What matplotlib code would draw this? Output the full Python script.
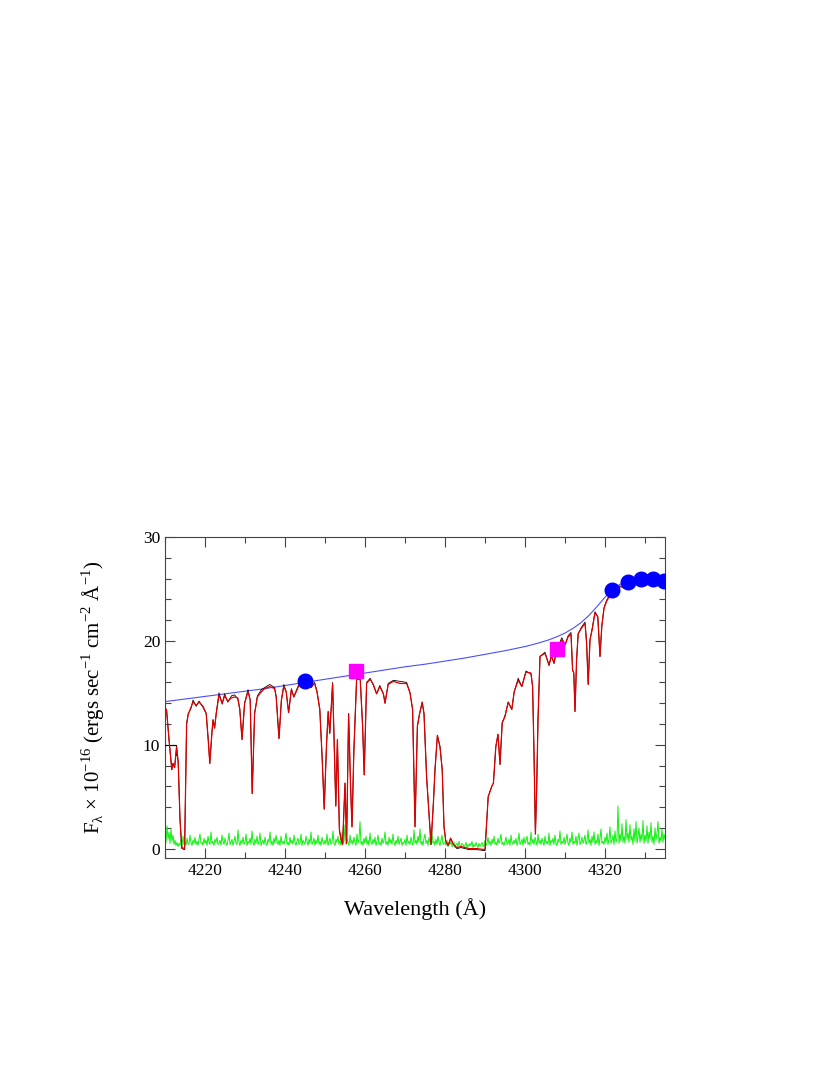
import numpy as np
import matplotlib
matplotlib.use("Agg")
import matplotlib.pyplot as plt

plt.rcParams['font.family'] = 'serif'
plt.rcParams['font.serif'] = ['Liberation Serif', 'DejaVu Serif']
plt.rcParams['mathtext.fontset'] = 'custom'
plt.rcParams['mathtext.rm'] = 'Liberation Serif'

# model fit (red)
model_wave = [4210.0, 4210.4, 4211.0, 4211.7, 4212.0, 4212.4, 4212.9, 4213.3, 4213.75, 4214.2,
              4214.9, 4215.4, 4215.8, 4216.5, 4217.0, 4217.8, 4218.5, 4219.5, 4220.3, 4220.8,
              4221.2, 4221.7, 4222.0, 4222.4, 4222.8, 4223.5, 4224.3, 4224.9, 4225.7, 4226.6,
              4227.4, 4228.2, 4228.7, 4229.25, 4229.9, 4230.75, 4231.3, 4231.8, 4232.4, 4233.1,
              4234.1, 4234.9, 4236.2, 4237.4, 4237.8, 4238.5, 4239.1, 4239.7, 4240.3, 4240.9,
              4241.6, 4242.2, 4242.8, 4243.7, 4245.3, 4246.6, 4247.4, 4248.0, 4248.7, 4249.3,
              4249.8, 4250.4, 4250.8, 4251.2, 4251.9, 4252.7, 4253.1, 4253.6, 4254.0, 4254.4,
              4255.0, 4255.4, 4255.9, 4256.4, 4256.75, 4257.2, 4257.9, 4258.8, 4259.4, 4259.8,
              4260.4, 4261.3, 4262.1, 4262.9, 4263.7, 4264.6, 4265.0, 4265.8, 4267.1, 4268.75,
              4270.4, 4271.25, 4271.9, 4272.5, 4273.1, 4273.6, 4274.3, 4274.75, 4275.4, 4276.1,
              4276.5, 4277.1, 4277.5, 4278.1, 4278.75, 4279.3, 4279.75, 4280.2, 4280.8, 4281.4,
              4282.1, 4283.0, 4284.0, 4286.0, 4288.0, 4290.0, 4290.8, 4291.7, 4292.1, 4292.7,
              4293.25, 4293.75, 4294.3, 4295.0, 4295.8, 4296.7, 4297.3, 4298.3, 4299.2, 4300.25,
              4301.5, 4301.9, 4302.25, 4302.6, 4302.9, 4303.25, 4303.75, 4305.0, 4306.0, 4306.6,
              4307.25, 4307.9, 4309.2, 4310.0, 4310.8, 4311.5, 4311.9, 4312.2, 4312.5, 4312.9,
              4313.3, 4314.1, 4315.0, 4315.4, 4315.8, 4316.25, 4316.8, 4317.5, 4318.2, 4318.75,
              4319.2, 4319.75, 4320.4, 4321.25, 4322.1, 4322.9, 4323.75, 4324.6, 4325.4, 4326.7,
              4327.5, 4328.75, 4330.0, 4332.0, 4335.0]
model_flux = [13.6, 13.3, 10.5, 7.6, 8.2, 7.8, 9.8, 8.3, 2.8, 0.1,
              0.0, 12.0, 12.9, 13.6, 14.1, 13.8, 14.1, 13.7, 13.0, 10.5,
              8.2, 11.0, 12.4, 11.6, 13.0, 14.8, 14.0, 14.7, 14.2, 14.5,
              14.6, 14.5, 13.4, 10.5, 14.0, 15.1, 14.3, 5.3, 13.0, 14.6,
              15.1, 15.4, 15.6, 15.4, 14.6, 10.6, 14.3, 15.6, 15.1, 13.1,
              15.3, 14.6, 15.1, 15.9, 16.2, 15.6, 15.9, 15.1, 13.4, 8.6,
              3.8, 10.2, 13.2, 11.1, 15.9, 4.1, 10.5, 1.8, 0.9, 0.4,
              6.3, 0.5, 13.0, 5.9, 2.1, 9.2, 16.3, 16.3, 11.8, 7.1,
              15.9, 16.3, 15.8, 14.9, 15.6, 14.9, 14.0, 15.8, 16.1, 15.9,
              15.9, 15.0, 13.4, 2.1, 11.8, 12.9, 14.1, 13.0, 6.9, 2.8,
              0.4, 4.4, 7.6, 10.9, 9.8, 7.6, 2.1, 0.7, 0.3, 1.0,
              0.4, 0.1, 0.2, 0.0, 0.0, -0.1, 5.0, 6.0, 6.3, 9.8,
              11.0, 8.1, 12.1, 12.7, 14.1, 13.4, 15.1, 16.2, 15.6, 17.0,
              16.9, 15.6, 9.2, 1.4, 5.4, 12.4, 18.5, 18.8, 17.7, 18.5,
              17.9, 19.0, 20.1, 19.6, 20.4, 20.6, 17.2, 16.9, 13.2, 18.2,
              20.7, 21.2, 21.7, 19.8, 15.8, 20.1, 21.1, 22.7, 22.3, 18.5,
              21.4, 23.1, 23.8, 24.4, 24.7, 24.9, 25.2, 25.2, 25.5, 25.7,
              25.5, 25.5, 25.4, 25.5, 25.5]

# observed spectrum (black), on the same wavelengths, mostly hidden under the model
obs_flux = [13.6, 13.3, 10.5, 7.6, 8.2, 7.8, 9.8, 8.3, 2.8, 0.0,
            -0.1, 12.0, 13.0, 13.5, 14.3, 13.7, 14.2, 13.6, 13.0, 10.5,
            8.2, 11.0, 12.4, 11.6, 13.0, 15.0, 13.9, 14.9, 14.1, 14.7,
            14.8, 14.4, 13.4, 10.5, 14.0, 15.3, 14.3, 5.3, 13.0, 14.7,
            15.3, 15.5, 15.8, 15.5, 14.6, 10.6, 14.3, 15.8, 15.1, 13.1,
            15.4, 14.6, 15.2, 16.0, 16.3, 15.5, 16.0, 15.1, 13.4, 8.6,
            3.8, 10.2, 13.2, 11.1, 16.0, 4.1, 10.5, 1.8, 0.9, 0.4,
            6.3, 0.5, 13.0, 5.9, 2.1, 9.2, 16.4, 16.4, 11.8, 7.1,
            16.0, 16.4, 15.7, 14.9, 15.7, 14.9, 14.0, 15.9, 16.2, 16.1,
            16.0, 15.0, 13.4, 2.1, 11.8, 12.9, 14.1, 13.0, 6.9, 2.8,
            0.4, 4.4, 7.6, 10.9, 9.8, 7.6, 2.1, 0.7, 0.3, 1.0,
            0.4, 0.0, 0.1, -0.1, -0.1, -0.2, 5.0, 6.0, 6.3, 9.8,
            11.0, 8.1, 12.1, 12.8, 14.1, 13.4, 15.1, 16.4, 15.6, 17.1,
            16.8, 15.6, 9.2, 1.4, 5.4, 12.4, 18.5, 18.9, 17.6, 18.6,
            17.8, 19.1, 20.3, 19.6, 20.5, 20.8, 17.2, 16.9, 13.2, 18.2,
            20.7, 21.3, 21.8, 19.8, 15.8, 20.1, 21.2, 22.8, 22.3, 18.5,
            21.4, 23.2, 23.9, 24.5, 24.6, 25.0, 25.3, 25.1, 25.6, 25.9,
            25.4, 25.6, 25.3, 25.6, 25.4]
# little step of the observed data at the blue edge
step_wave = [4210.0, 4212.8, 4212.8]
step_flux = [10.0, 10.0, 9.0]

# error spectrum (green), every 0.25 A from 4210 to 4335
err_flux = [1.2, 0.6, 2.2, 0.9, 1.6, 0.5, 1.9, 0.7, 1.3, 0.4, 0.8, 0.3, 0.6, 0.2, 0.5, 0.3, 0.9, 0.2, 1.2, 0.4,
            0.7, 0.3, 1.0, 0.5, 0.4, 1.3, 0.6, 0.3, 0.8, 0.5, 1.1, 0.4, 0.7, 0.3, 0.9, 1.4, 0.5, 0.6, 0.3, 1.0,
            0.5, 0.8, 0.3, 1.2, 0.6, 0.4, 1.6, 0.5, 0.7, 0.3, 0.9, 0.6, 1.1, 0.4, 0.5, 0.8, 0.3, 1.3, 0.7, 0.4,
            1.0, 0.5, 0.3, 0.8, 1.5, 0.4, 0.6, 0.9, 0.3, 0.7, 1.2, 0.5, 0.4, 1.8, 0.6, 0.3, 0.8, 0.5, 1.1, 0.4,
            0.6, 1.4, 0.3, 0.7, 0.5, 1.0, 0.4, 1.7, 0.6, 0.3, 0.9, 0.5, 1.2, 0.4, 0.7, 1.5, 0.3, 0.6, 0.8, 0.4,
            1.1, 0.5, 0.3, 0.9, 0.6, 1.6, 0.4, 0.7, 0.3, 1.0, 0.5, 1.3, 0.6, 0.4, 0.8, 0.3, 1.2, 0.5, 0.7, 0.4,
            0.9, 1.5, 0.4, 0.6, 0.3, 1.1, 0.5, 0.8, 0.4, 1.3, 0.6, 0.3, 0.7, 1.0, 0.4, 0.5, 1.4, 0.3, 0.8, 0.6,
            0.4, 1.2, 0.7, 0.3, 0.9, 0.5, 1.6, 0.4, 0.6, 1.0, 0.3, 0.8, 0.5, 1.3, 0.4, 0.7, 0.3, 1.1, 0.6, 0.4,
            0.8, 0.5, 1.4, 0.3, 0.7, 1.0, 0.4, 0.6, 1.7, 0.5, 0.3, 0.9, 0.6, 1.2, 0.4, 0.8, 0.3, 1.5, 0.5, 0.7,
            2.3, 0.4, 1.0, 0.6, 0.3, 1.3, 0.5, 0.8, 0.4, 1.1, 0.6, 0.3, 1.4, 0.5, 0.9, 2.6, 0.4, 0.7, 0.3, 1.0,
            0.5, 1.2, 0.4, 0.8, 0.3, 1.5, 0.6, 0.4, 0.9, 0.5, 1.1, 0.3, 0.7, 1.3, 0.4, 0.6, 0.3, 1.0, 0.5, 0.8,
            1.6, 0.4, 0.7, 0.3, 1.1, 0.5, 0.9, 0.4, 1.4, 0.6, 0.3, 0.8, 0.5, 1.2, 0.4, 0.7, 1.0, 0.3, 0.6, 0.5,
            0.9, 0.3, 1.3, 0.5, 0.7, 0.4, 1.1, 0.6, 0.3, 1.8, 0.5, 0.8, 0.4, 1.2, 0.6, 1.9, 0.4, 0.7, 0.3, 1.0,
            1.4, 0.5, 0.8, 0.3, 1.1, 0.6, 0.4, 1.5, 0.5, 0.7, 0.3, 0.9, 0.4, 1.2, 0.6, 0.3, 0.8, 1.3, 0.4, 0.5,
            0.6, 0.3, 0.8, 0.2, 0.5, 0.4, 0.7, 0.2, 0.3, 0.6, 0.1, 0.4, 0.5, 0.2, 0.7, 0.3, 0.1, 0.5, 0.4, 0.2,
            0.3, 0.6, 0.1, 0.4, 0.2, 0.5, 0.3, 0.7, 0.1, 0.4, 0.2, 0.6, 0.3, 0.1, 0.5, 0.2, 0.4, 0.6, 0.2, 0.3,
            0.8, 0.3, 0.5, 1.1, 0.4, 0.7, 0.3, 0.9, 0.5, 1.2, 0.4, 0.6, 0.3, 1.0, 0.5, 0.8, 1.4, 0.4, 0.6, 0.3,
            0.7, 1.1, 0.4, 0.5, 0.9, 0.3, 1.3, 0.6, 0.4, 0.8, 0.5, 1.0, 0.3, 0.7, 1.5, 0.4, 0.6, 0.9, 0.3, 1.1,
            0.5, 0.8, 1.2, 0.4, 0.6, 0.3, 1.6, 0.5, 0.9, 0.4, 1.1, 0.7, 0.3, 1.4, 0.5, 0.8, 0.4, 1.0, 0.6, 0.3,
            1.2, 0.5, 0.7, 0.4, 1.5, 0.3, 0.8, 0.6, 1.0, 0.4, 1.3, 0.5, 0.3, 0.9, 0.6, 1.7, 0.4, 0.7, 0.5, 1.1,
            0.4, 0.8, 1.4, 0.5, 0.3, 1.0, 0.6, 1.6, 0.4, 0.7, 0.5, 1.2, 0.3, 0.9, 1.5, 0.4, 0.6, 1.1, 0.5, 0.8,
            1.3, 0.4, 0.7, 1.8, 0.5, 0.9, 0.3, 1.2, 0.6, 1.6, 0.4, 0.8, 0.5, 1.4, 0.3, 1.0, 1.9, 0.5, 0.7, 0.4,
            1.1, 0.6, 1.5, 0.4, 0.9, 2.1, 0.5, 0.8, 1.3, 0.4, 1.7, 0.6, 1.0, 4.1, 0.5, 1.4, 0.7, 2.4, 0.6, 1.2,
            0.5, 2.8, 0.9, 1.5, 0.6, 2.3, 0.8, 1.2, 0.4, 1.9, 0.7, 2.6, 0.5, 1.1, 2.0, 0.6, 1.4, 0.8, 2.7, 0.5,
            1.3, 0.7, 2.2, 0.5, 1.6, 0.9, 2.5, 0.6, 1.2, 0.4, 2.0, 0.8, 1.5, 2.6, 0.5, 1.1, 0.7, 1.9, 0.6, 1.4,
            0.9]
err_wave = np.arange(4210.0, 4335.01, 0.25)

# continuum fit (blue line)
cont_wave = [4210, 4215, 4220, 4225, 4230, 4235, 4240, 4245, 4250, 4255, 4260, 4265, 4270,
             4275, 4280, 4285, 4290, 4295, 4300, 4303, 4306, 4308, 4310, 4312, 4314, 4316,
             4318, 4320, 4322, 4324, 4326, 4328, 4330, 4332, 4335]
cont_flux = [14.15, 14.4, 14.65, 14.9, 15.15, 15.4, 15.7, 16.0, 16.3, 16.6, 16.9, 17.2, 17.5,
             17.75, 18.05, 18.35, 18.7, 19.05, 19.45, 19.75, 20.1, 20.4, 20.75, 21.2, 21.75, 22.45,
             23.3, 24.2, 25.0, 25.5, 25.8, 25.95, 26.0, 25.95, 25.8]

# continuum points
circ_wave = [4245.0, 4321.75, 4325.75, 4329.0, 4332.0, 4334.75]
circ_flux = [16.15, 24.9, 25.7, 26.0, 26.0, 25.8]
sq_wave = [4257.75, 4308.0]
sq_flux = [17.05, 19.2]

fig = plt.figure(figsize=(8.3, 10.75), dpi=100)
ax = fig.add_axes([0.1988, 0.2019, 0.6024, 0.2986])

ax.plot(err_wave, err_flux, color='#11f011', lw=0.7, zorder=2)
ax.plot(cont_wave, cont_flux, color='#4d4dff', lw=0.8, zorder=3)
ax.plot(step_wave, step_flux, color='black', lw=0.8, zorder=4)
ax.plot(model_wave, obs_flux, color='black', lw=0.6, zorder=4)
ax.plot(model_wave, model_flux, color='#e00000', lw=0.9, zorder=5)
ax.plot(circ_wave, circ_flux, 'o', color='#0000ff', ms=10.5, zorder=6)
ax.plot(sq_wave, sq_flux, 's', color='#ff00ff', ms=10, zorder=6)

ax.set_xlim(4210, 4335)
ax.set_ylim(-0.9, 30)
ax.set_xticks([4220, 4240, 4260, 4280, 4300, 4320])
ax.set_xticks(np.arange(4210, 4336, 10), minor=True)
ax.set_yticks([0, 10, 20, 30])
ax.set_yticks(np.arange(0, 31, 2), minor=True)
ax.tick_params(which='both', direction='in', top=True, right=True, labelsize=12.5, color='#444444')
ax.tick_params(which='major', length=7, width=0.8)
ax.tick_params(which='minor', length=4, width=0.8)
for s in ax.spines.values():
    s.set_color('#444444')
    s.set_linewidth(0.8)

ax.set_xlabel('Wavelength (Å)', fontsize=16, labelpad=14)
ax.set_ylabel(r'F$_{\mathregular{λ}}$ × 10$^{\mathregular{-16}}$ (ergs sec$^{\mathregular{-1}}$ cm$^{\mathregular{-2}}$ Å$^{\mathregular{-1}}$)',
              fontsize=15, labelpad=26)

plt.savefig('out.png', dpi=100)
